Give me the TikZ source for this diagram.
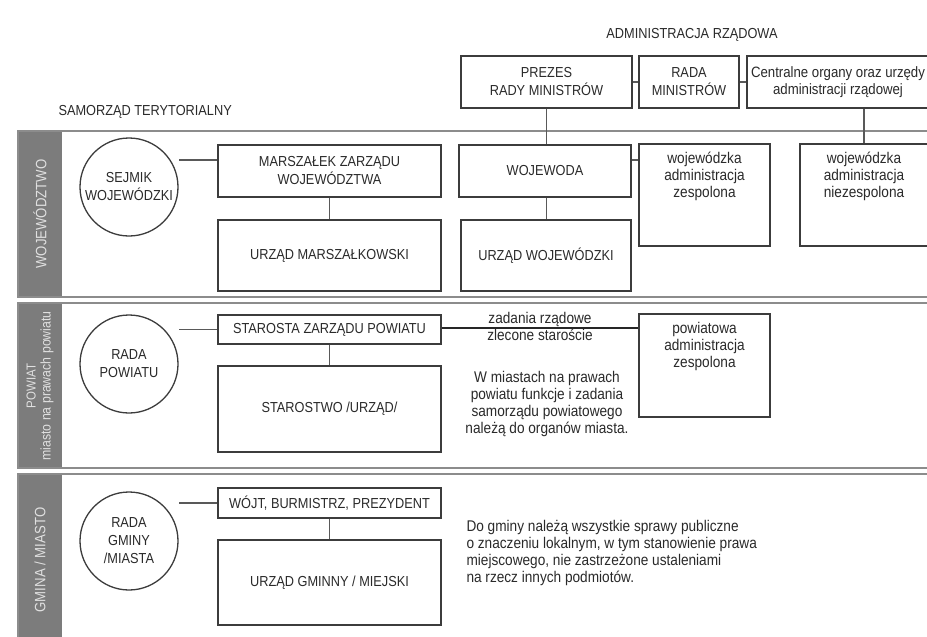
\documentclass[tikz,border=0pt]{standalone}
\usepackage{fontspec}
\setmainfont{Liberation Sans}[FakeStretch=0.88]
\definecolor{bandgray}{HTML}{8C8C8C}
\definecolor{sidegray}{HTML}{7C7C7C}
\definecolor{linegray}{HTML}{3C3C3C}
\definecolor{inkgray}{HTML}{2A2A2A}
\begin{document}
\begin{tikzpicture}[x=1pt,y=-1pt,
  caps/.style={font=\fontsize{14.5}{18}\selectfont,text=inkgray},
  lower/.style={font=\fontsize{15.5}{17}\selectfont,text=inkgray},
  box/.style={draw=linegray,line width=1.3pt,fill=white,minimum width=223pt,inner sep=2pt,align=center,caps},
  tallbox/.style={draw=linegray,line width=1.3pt,fill=white,minimum width=131pt,minimum height=102pt},
  inlabel/.style={anchor=north,yshift=-5pt,align=center,lower},
  organ/.style={draw=linegray,line width=1.3pt,circle,minimum size=98pt,inner sep=0pt,align=center,caps},
  conn/.style={draw=linegray!85,line width=1.6pt},
  band/.style={draw=bandgray,line width=2pt,fill=white},
  sidetxt/.style={rotate=90,text=white!88!black,align=center,font=\fontsize{15}{17}\selectfont}
]
\useasboundingbox (0,0) rectangle (927,637);
\clip (0,0) rectangle (927,637);
\fill[white] (0,0) rectangle (927,637);
\foreach \ya/\yb in {131/297,303/468,474/645}{
  \draw[band] (18,\ya) rectangle (940,\yb);
  \fill[sidegray] (19,\ya+1) rectangle (62,\yb-1);
}
\node[sidetxt] (sWoj) at (40,214) {WOJEWÓDZTWO};
\node[sidetxt,font=\fontsize{13}{15}\selectfont] (sPow) at (40,386) {POWIAT\\{\fontsize{14}{15}\selectfont miasto na prawach powiatu}};
\node[sidetxt] (sGmi) at (40,560) {GMINA / MIASTO};
\node[caps,anchor=west] (samorzad) at (55,112) {SAMORZĄD TERYTORIALNY};
\node[caps] (rzad) at (692,35) {ADMINISTRACJA RZĄDOWA};
% administracja rzadowa
\node[box,minimum width=171pt,minimum height=52pt] (prezes) at (546.5,82) {PREZES\\RADY MINISTRÓW};
\node[box,minimum width=100pt,minimum height=52pt] (rada) at (689,82) {RADA\\MINISTRÓW};
\node[box,minimum width=182pt,minimum height=52pt,lower,font=\fontsize{15}{17}\selectfont] (central) at (838,82) {Centralne organy oraz urzędy\\administracji rządowej};
\node[box,minimum width=172pt,minimum height=52pt] (wojewoda) at (545,171) {WOJEWODA};
\node[box,minimum width=170pt,minimum height=71pt] (urzW) at (546,255.5) {URZĄD WOJEWÓDZKI};
\node[tallbox,label={[inlabel]north:wojewódzka\\administracja\\zespolona}] (wZesp) at (704.5,195) {};
\node[tallbox,minimum width=128pt,label={[inlabel]north:wojewódzka\\administracja\\niezespolona}] (wNiez) at (864,195) {};
\node[tallbox,minimum height=103pt,label={[inlabel]north:powiatowa\\administracja\\zespolona}] (pZesp) at (704.5,365.5) {};
% samorzad
\node[organ] (sejmik) at (129,187) {SEJMIK\\WOJEWÓDZKI};
\node[box,minimum height=52pt] (marsz) at (329.5,171) {MARSZAŁEK ZARZĄDU\\WOJEWÓDZTWA};
\node[box,minimum height=71pt] (urzM) at (329.5,255.5) {URZĄD MARSZAŁKOWSKI};
\node[organ] (radaP) at (129,364) {RADA\\POWIATU};
\node[box,minimum height=29pt] (starosta) at (329.5,329.5) {STAROSTA ZARZĄDU POWIATU};
\node[box,minimum height=86pt] (starostwo) at (329.5,409) {STAROSTWO /URZĄD/};
\node[organ] (radaG) at (129,541) {RADA\\GMINY\\/MIASTA};
\node[box,minimum height=30pt] (wojt) at (329.5,503) {WÓJT, BURMISTRZ, PREZYDENT};
\node[box,minimum height=85pt] (urzG) at (329.5,582.5) {URZĄD GMINNY / MIEJSKI};
\node[lower,align=center] (miasta) at (547,404) {W miastach na prawach\\powiatu funkcje i zadania\\samorządu powiatowego\\należą do organów miasta.};
\node[lower,align=left,anchor=west] (gminy) at (463,553) {Do gminy należą wszystkie sprawy publiczne\\o znaczeniu lokalnym, w tym stanowienie prawa\\miejscowego, nie zastrzeżone ustaleniami\\na rzecz innych podmiotów.};
% polaczenia
\draw[conn] (prezes.east) -- (rada.west);
\draw[conn] (rada.east) -- (central.west);
\draw[conn] (prezes.south) -- (prezes.south |- wojewoda.north);
\draw[conn] (wNiez.north) -- (wNiez.north |- central.south);
\draw[conn] ([yshift=11pt]wojewoda.east) -- ([yshift=11pt]wojewoda.east -| wZesp.west);
\draw[conn] (prezes.south |- wojewoda.south) -- (prezes.south |- urzW.north);
\draw[conn] ([yshift=11pt]marsz.west) -- ([yshift=11pt]marsz.west -| sejmik.east);
\draw[conn] (marsz.south) -- (urzM.north);
\draw[conn] (starosta.west) -- (starosta.west -| radaP.east);
\draw[conn] (starosta.south) -- (starostwo.north);
\draw[conn,draw=black!85,line width=1.8pt] ([yshift=1.5pt]starosta.east) -- ([yshift=1.5pt]starosta.east -| pZesp.west)
  node[midway,above,inner sep=0.5pt,lower]{zadania rządowe} node[midway,below,inner sep=0.5pt,lower]{zlecone staroście};
\draw[conn] (wojt.west) -- (wojt.west -| radaG.east);
\draw[conn] (wojt.south) -- (urzG.north);
\end{tikzpicture}
\end{document}
